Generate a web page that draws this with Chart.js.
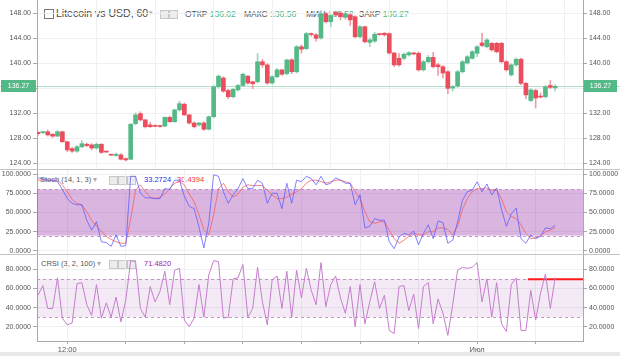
<!DOCTYPE html>
<html><head><meta charset="utf-8">
<script src="https://cdn.jsdelivr.net/npm/chart.js@4"></script>
<style>
html,body{margin:0;padding:0;background:#fff;width:620px;height:356px;overflow:hidden;font-family:"Liberation Sans",Arial,sans-serif;}
#wrap{position:relative;width:620px;height:356px;}
canvas{position:absolute;left:0;z-index:2}
.t{position:absolute;z-index:1;white-space:nowrap;color:#555;}
.sep{position:absolute;left:0;width:620px;height:1px;background:#c4c4c4;z-index:3}
.ic{position:absolute;z-index:1;width:7px;height:7px;border:1px solid #c8c8c8;background:#ececec;}
.g{color:#53b987}
</style></head>
<body><div id="wrap">
<div class="ic" style="left:44px;top:9px;width:8px;height:8px;background:#fff;border-color:#777"></div>
<div style="position:absolute;z-index:1;left:45px;top:13px;width:8px;height:1px;background:#777"></div>
<div class="t" style="left:56px;top:7px;font-size:10.5px;color:#4a4a4a">Litecoin vs USD, 60</div>
<div class="t" style="left:149px;top:9px;font-size:7px;color:#aaa">▾</div>
<div class="ic" style="left:160px;top:10px"></div>
<div class="ic" style="left:169px;top:10px"></div>
<div class="t" style="left:185px;top:9px;font-size:8.5px">ОТКР <span class="g">136.02</span></div>
<div class="t" style="left:244px;top:9px;font-size:8.5px">МАКС <span class="g">136.56</span></div>
<div class="t" style="left:306px;top:9px;font-size:8.5px">МИН <span class="g">135.52</span></div>
<div class="t" style="left:359px;top:9px;font-size:8.5px">ЗАКР <span class="g">136.27</span></div>

<div class="t" style="left:40px;top:175px;font-size:7.5px">Stoch (14, 1, 3) <span style="color:#aaa">▾</span></div>
<div class="ic" style="left:109px;top:176px"></div>
<div class="ic" style="left:118px;top:176px"></div>
<div class="ic" style="left:127px;top:176px"></div>
<div class="t" style="left:144px;top:175px;font-size:7.5px;color:#2f2fe0">33.2724</div>
<div class="t" style="left:177px;top:175px;font-size:7.5px;color:#e53935">30.4394</div>

<div class="t" style="left:41px;top:259px;font-size:7.5px">CRSI (3, 2, 100) <span style="color:#aaa">▾</span></div>
<div class="ic" style="left:109px;top:260px"></div>
<div class="ic" style="left:118px;top:260px"></div>
<div class="ic" style="left:127px;top:260px"></div>
<div class="t" style="left:144px;top:259px;font-size:7.5px;color:#9c27b0">71.4820</div>

<canvas id="c1" width="620" height="169" style="top:0px"></canvas>
<canvas id="c2" width="620" height="84" style="top:170px"></canvas>
<canvas id="c3" width="620" height="97" style="top:255px"></canvas>
<div class="sep" style="top:169px"></div>
<div class="sep" style="top:254px"></div>
<div style="position:absolute;left:0;top:352px;width:620px;height:4px;background:#e9e9e9"></div>
</div>
<script>
// ---------- DATA ----------
const open  = [128.9,128.85,129.0,128.6,128.3,129.0,127.4,126.3,125.9,126.6,127.0,126.9,126.4,127.0,125.8,125.3,125.2,125.3,124.7,124.6,
130.3,131.9,130.9,130.1,129.9,129.9,129.9,131.3,130.6,132.5,133.4,131.7,130.4,130.1,130.4,129.4,131.4,136.2,137.6,135.6,
134.6,135.7,136.4,137.9,137.0,137.0,140.2,139.7,136.8,137.8,138.9,138.3,140.5,138.6,142.6,142.3,144.6,144.5,144.0,147.9,
146.6,148.1,148.0,147.3,147.7,147.4,144.2,145.8,143.3,143.5,144.6,144.75,144.7,141.6,140.75,140.75,141.3,141.5,141.55,138.9,
140.2,140.9,139.7,139.4,138.6,136.0,136.3,138.6,140.0,140.75,141.55,143.2,142.6,143.15,143.15,143.15,140.2,138.1,139.7,140.6,
136.75,134.0,135.6,134.6,134.6,136.4,136.02];
const high  = [129.1,129.1,129.3,128.7,129.2,129.1,127.5,126.5,126.8,127.6,127.2,127.1,127.2,127.1,125.9,125.4,125.6,125.5,124.8,130.3,
132.0,132.2,131.0,130.5,130.1,130.0,131.4,131.5,132.6,133.9,133.6,131.8,130.6,130.5,130.6,131.5,136.4,138.1,137.8,135.8,
135.9,136.6,138.4,138.0,137.1,141.5,140.6,139.9,138.0,139.1,139.0,140.6,140.7,142.8,142.9,144.9,144.8,144.7,148.4,148.1,
147.8,148.3,148.2,148.1,147.9,147.6,146.0,145.9,144.0,144.9,144.7,144.9,144.8,141.7,141.5,141.6,141.8,141.7,141.8,140.4,
141.2,141.7,140.0,139.6,138.8,136.4,138.8,140.4,141.2,142.0,142.8,144.75,143.9,143.3,143.3,143.3,140.4,139.9,140.8,140.8,
136.9,135.9,135.8,135.2,136.4,137.2,136.56];
const low   = [128.4,128.7,128.3,128.1,128.2,127.3,125.8,125.7,125.7,126.4,126.6,126.1,126.2,125.5,125.7,125.2,125.1,124.5,124.3,124.5,
130.1,130.7,129.6,129.7,129.8,129.7,129.8,130.5,130.5,132.3,131.6,130.2,129.6,129.9,129.2,129.3,131.3,136.0,135.3,134.3,
134.4,135.5,136.3,136.6,135.9,136.8,139.3,136.6,136.6,137.6,138.0,138.1,138.3,138.4,141.6,142.1,144.3,143.5,143.8,146.4,
145.8,147.5,146.9,147.0,146.0,144.0,144.0,143.2,142.6,143.3,144.4,144.3,141.4,139.4,139.5,140.5,141.1,141.3,138.7,138.7,
140.0,139.2,138.0,137.6,135.1,135.5,136.1,138.4,139.8,140.6,141.0,142.6,142.4,141.9,141.6,140.0,138.7,137.9,139.5,136.5,
134.3,133.8,132.8,134.4,134.4,135.9,135.52];
const close = [128.7,128.95,128.5,128.3,129.0,127.4,126.1,125.9,126.6,127.1,126.8,126.4,127.0,125.7,125.75,125.25,125.4,124.6,124.5,130.2,
131.7,130.9,129.8,129.8,129.85,129.85,131.3,130.6,132.5,133.5,131.7,130.4,129.8,130.4,129.4,131.4,136.2,137.9,135.5,134.6,
135.8,136.4,138.2,136.8,136.7,140.2,139.7,136.8,137.8,138.9,138.2,140.5,138.6,142.6,142.2,144.7,144.55,143.95,147.9,146.6,
147.6,147.7,147.4,147.9,146.9,144.2,145.8,143.4,143.7,144.6,144.55,144.5,141.6,139.7,139.7,141.4,141.65,141.45,138.9,140.2,
140.9,139.4,139.4,138.4,135.95,136.2,138.6,140.2,141.0,141.8,142.6,142.8,143.7,142.1,141.8,140.2,138.9,139.7,140.6,136.75,
134.9,135.7,134.4,134.55,136.2,136.1,136.27];
const stochK = [95,94,92,92,90,80,68,62,60,60,40,27,38,12,11,6,21,6,7,97,97,75,69,69,68,68,81,80,92,92,71,58,55,31,4,36,99,97,77,62,73,81,94,81,81,92,88,62,75,75,55,88,62,92,90,97,
94,86,97,86,88,95,92,88,88,60,73,30,32,42,40,40,12,3,18,23,21,26,8,23,34,16,39,37,10,14,38,66,77,79,90,77,87,73,82,54,32,48,56,16,10,21,16,19,30,29,33.27];
const stochD = [92,92,92,92,92,86,77,67,62,60,51,40,32,26,19,15,12,10,10,42,79,86,77,70,68,70,74,81,88,90,86,74,64,47,28,21,47,81,88,77,70,74,83,86,85,85,85,79,73,68,68,70,74,77,81,88,
92,92,90,88,90,92,92,90,88,77,68,51,38,36,38,38,27,16,10,14,19,23,21,21,25,25,30,30,28,21,32,54,68,77,81,81,82,79,79,68,51,45,42,34,23,16,17,20,25,27,30.44];
const crsi = [53,63,39,39,71,29,22,24,65,66,43,32,64,29,45,30,51,25,48,89,88,39,30,62,46,57,78,43,79,81,27,20,29,64,30,74,89,88,29,30,70,71,85,30,39,82,46,22,69,73,39,78,30,79,50,81,
58,43,87,41,64,73,50,34,62,20,64,23,46,67,39,53,16,13,62,63,37,54,18,62,66,23,49,34,11,43,79,82,81,82,87,46,70,30,66,23,15,64,71,16,16,58,27,55,75,39,71.48];
const crsiAlert = [{x:100.4, y:69.5},{x:111.7, y:69.5}];
const priceTicks = [124,128,132,136,140,144,148];
const stochTicks = [0,25,50,75,100];
const crsiTicks = [20,40,60,80];
const stochBands = [80,20];
const crsiBands = [70,30];
const xTicks = [6,18,30,42,54,66,78,90,102];
const xLabels = ['12:00','','','','','','','Июл',''];

// ---------- STYLE ----------
const UP='#53b987', DN='#eb4d5c', UPW='#9fd5bb', DNW='#f09ca4';
const GRID='#eef0f2', AX='#a8a8a8', TXT='#555';
const XMIN=-0.2, XMAX=111.7;
Chart.defaults.font.family='"Liberation Sans", Arial, sans-serif';
Chart.defaults.font.size=7;
Chart.defaults.color=TXT;

const idx = close.map((_,i)=>i);
const fixW = s => { s.width = 37; s.paddingTop = 0; s.paddingBottom = 0; };
function yAxes(min,max,ticks,fmt){
  return {
    y:{position:'left',min,max,afterFit:fixW,afterBuildTicks:a=>{a.ticks=ticks.map(v=>({value:v}));},
       ticks:{callback:v=>v.toFixed(fmt),padding:2,color:TXT},
       grid:{color:GRID,tickColor:AX,tickLength:4},border:{color:AX}},
    y2:{position:'right',min,max,afterFit:fixW,afterBuildTicks:a=>{a.ticks=ticks.map(v=>({value:v}));},
       ticks:{callback:v=>v.toFixed(fmt),padding:2,color:TXT},
       grid:{drawOnChartArea:false,tickColor:AX,tickLength:4},border:{color:AX}}
  };
}
function xAxis(show){
  return {type:'linear',min:XMIN,max:XMAX,offset:false,
    afterFit:s=>{s.height= show?11:0; s.paddingLeft=0; s.paddingRight=0;},
    afterBuildTicks:a=>{a.ticks=xTicks.map(v=>({value:v}));},
    ticks:{display:show,autoSkip:false,maxRotation:0,padding:1,font:{size:7.5},color:TXT,
      callback:v=>{const k=xTicks.indexOf(v);return k>=0?xLabels[k]:'';}},
    grid:{color:GRID,drawTicks:show,tickLength:3,tickColor:AX},
    border:{display:show,color:AX}};
}
const bandPlugin={id:'band',beforeDatasetsDraw(chart,args,o){
  if(!o||!o.levels)return;
  const {ctx,chartArea:a,scales:{y}}=chart;
  const y1=y.getPixelForValue(o.levels[0]), y2=y.getPixelForValue(o.levels[1]);
  ctx.save();ctx.fillStyle=o.fill;ctx.fillRect(a.left,y1,a.right-a.left,y2-y1);
  ctx.strokeStyle=o.line;ctx.lineWidth=1;ctx.setLineDash([3,3]);
  [y1,y2].forEach(v=>{ctx.beginPath();ctx.moveTo(a.left,Math.round(v)+0.5);ctx.lineTo(a.right,Math.round(v)+0.5);ctx.stroke();});
  ctx.restore();}};
const lastPlugin={id:'last',
  beforeDatasetsDraw(chart){
    const {ctx,scales:{y}}=chart; const py=Math.round(y.getPixelForValue(close[close.length-1]))+0.5;
    ctx.save();ctx.strokeStyle='rgba(83,185,135,0.45)';ctx.lineWidth=1;
    ctx.beginPath();ctx.moveTo(0,py);ctx.lineTo(620,py);ctx.stroke();ctx.restore();},
  afterDraw(chart){
    const {ctx,scales:{y}}=chart; const v=close[close.length-1]; const py=y.getPixelForValue(v);
    ctx.save();ctx.fillStyle=UP;
    ctx.fillRect(1,Math.round(py)-6,35,12);ctx.fillRect(584,Math.round(py)-6,33,12);
    ctx.fillStyle='#fff';ctx.font='7px "Liberation Sans", Arial, sans-serif';ctx.textBaseline='middle';
    ctx.textAlign='center';ctx.fillText(v.toFixed(2),18.5,Math.round(py)+0.5);ctx.fillText(v.toFixed(2),600.5,Math.round(py)+0.5);
    ctx.restore();}};

const isUp = i => close[i]>=open[i];
new Chart(document.getElementById('c1'),{
  type:'bar',
  data:{datasets:[
    {label:'wick',data:idx.map(i=>({x:i,y:[low[i],high[i]]})),backgroundColor:c=>isUp(c.dataIndex)?UPW:DNW,
     barThickness:1,grouped:false,order:2,yAxisID:'y'},
    {label:'body',data:idx.map(i=>({x:i,y:[open[i],close[i]]})),backgroundColor:c=>isUp(c.dataIndex)?UP:DN,
     barThickness:4,minBarLength:1,grouped:false,order:1,yAxisID:'y'}
  ]},
  options:{responsive:false,animation:false,layout:{padding:0,autoPadding:false},
    plugins:{legend:{display:false},tooltip:{enabled:false}},
    scales:Object.assign({x:xAxis(false)},yAxes(123.04,150.08,priceTicks,2))},
  plugins:[lastPlugin]
});

new Chart(document.getElementById('c2'),{
  type:'line',
  data:{datasets:[
    {data:idx.map(i=>({x:i,y:stochK[i]})),borderColor:'rgba(90,90,255,0.75)',borderWidth:1,pointRadius:0,yAxisID:'y'},
    {data:idx.map(i=>({x:i,y:stochD[i]})),borderColor:'rgba(245,90,90,0.75)',borderWidth:1,pointRadius:0,yAxisID:'y'}
  ]},
  options:{responsive:false,animation:false,layout:{padding:0,autoPadding:false},
    plugins:{legend:{display:false},tooltip:{enabled:false},
      band:{levels:stochBands,fill:'rgba(150,50,170,0.36)',line:'rgba(200,130,200,0.9)'}},
    scales:Object.assign({x:xAxis(false)},yAxes(-3.9,105.2,stochTicks,4))},
  plugins:[bandPlugin]
});

new Chart(document.getElementById('c3'),{
  type:'line',
  data:{datasets:[
    {data:idx.map(i=>({x:i,y:crsi[i]})),borderColor:'#c47ecb',borderWidth:1,pointRadius:0,yAxisID:'y'},
    {data:crsiAlert,borderColor:'#ff1a1a',borderWidth:2,pointRadius:0,yAxisID:'y'}
  ]},
  options:{responsive:false,animation:false,layout:{padding:0,autoPadding:false},
    plugins:{legend:{display:false},tooltip:{enabled:false},
      band:{levels:crsiBands,fill:'rgba(150,50,170,0.1)',line:'rgba(190,140,190,0.9)'}},
    scales:Object.assign({x:xAxis(true)},yAxes(5.1,94.9,crsiTicks,4))},
  plugins:[bandPlugin]
});
</script>
</body></html>
